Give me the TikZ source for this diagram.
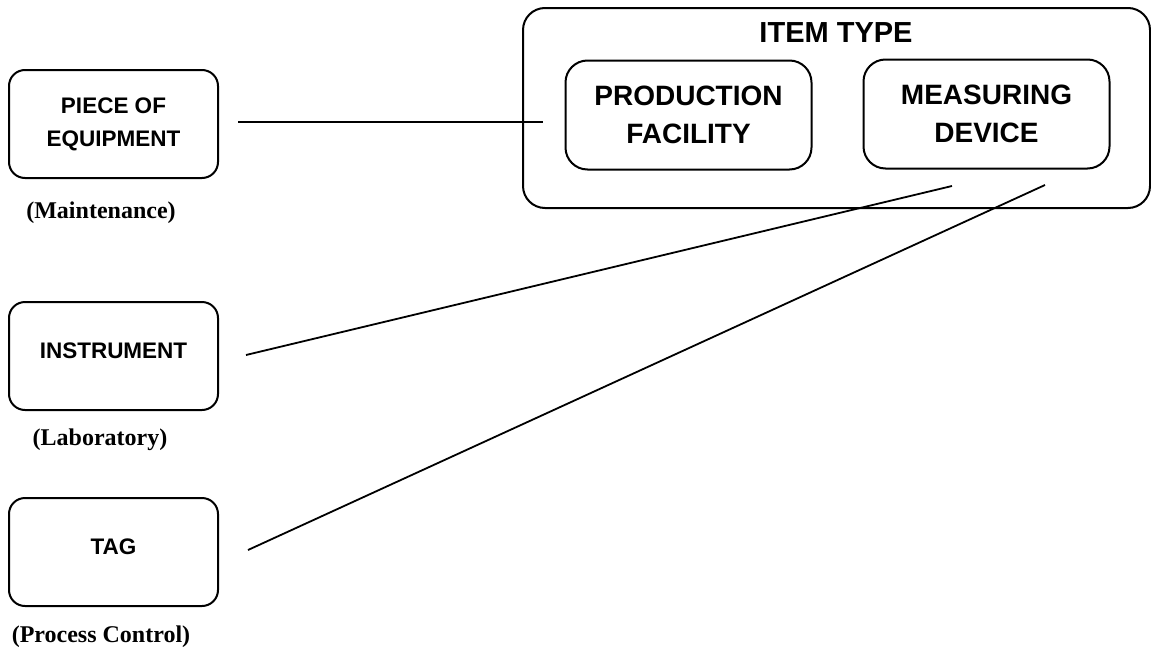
\documentclass[tikz,border=0pt]{standalone}
\usepackage{fontspec}
\setmainfont{Liberation Serif}
\setsansfont{Liberation Sans}
\usepackage{tikz}
\usetikzlibrary{positioning,calc}

\begin{document}
\begin{tikzpicture}[x=1pt, y=-1pt,
  smallbox/.style={draw, line width=2pt, rounded corners=16pt, align=center,
    minimum width=209pt, minimum height=108pt,
    font=\sffamily\bfseries\fontsize{22.5}{33}\selectfont},
  typebox/.style={draw, line width=2pt, rounded corners=22pt, align=center,
    minimum width=246pt, minimum height=109pt,
    font=\sffamily\bfseries\fontsize{28}{38}\selectfont},
  area/.style={font=\rmfamily\bfseries\fontsize{24}{26}\selectfont},
  link/.style={line width=1.8pt}]
\useasboundingbox (0,0) rectangle (1151,653);

% Item type group
\node[draw, line width=2pt, rounded corners=22pt, minimum width=627pt, minimum height=200pt] (itemtype) at (836.5,108) {};
\node[font=\sffamily\bfseries\fontsize{29}{32}\selectfont] (itemlbl) at (836,33) {ITEM TYPE};
\node[typebox] (prodfac) at (688.5,115) {PRODUCTION\\FACILITY};
\node[typebox] (measdev) at (986.5,114) {MEASURING\\DEVICE};

% Left side
\node[smallbox] (piece) at (113.5,124) {PIECE OF\\EQUIPMENT};
\node[area] (maint) at (101,213) {(Maintenance)};

\node[smallbox] (instr) at (113.5,356) {\raisebox{10pt}{INSTRUMENT}};
\node[area] (lab) at (100,440) {(Laboratory)};

\node[smallbox] (tag) at (113.5,552) {\raisebox{10pt}{TAG}};
\node[area] (proc) at (101,637) {(Process Control)};

% Connectors
\coordinate (pfEnd) at (543,122);
\coordinate (mdEndA) at (952,186);
\coordinate (mdEndB) at (1045,185);

\draw[link] ([xshift=19pt,yshift=2pt]piece.east) -- (pfEnd);
\draw[link] ([xshift=27pt,yshift=1pt]instr.east) -- (mdEndA);
\draw[link] ([xshift=29pt,yshift=2pt]tag.east) -- (mdEndB);
\end{tikzpicture}
\end{document}
